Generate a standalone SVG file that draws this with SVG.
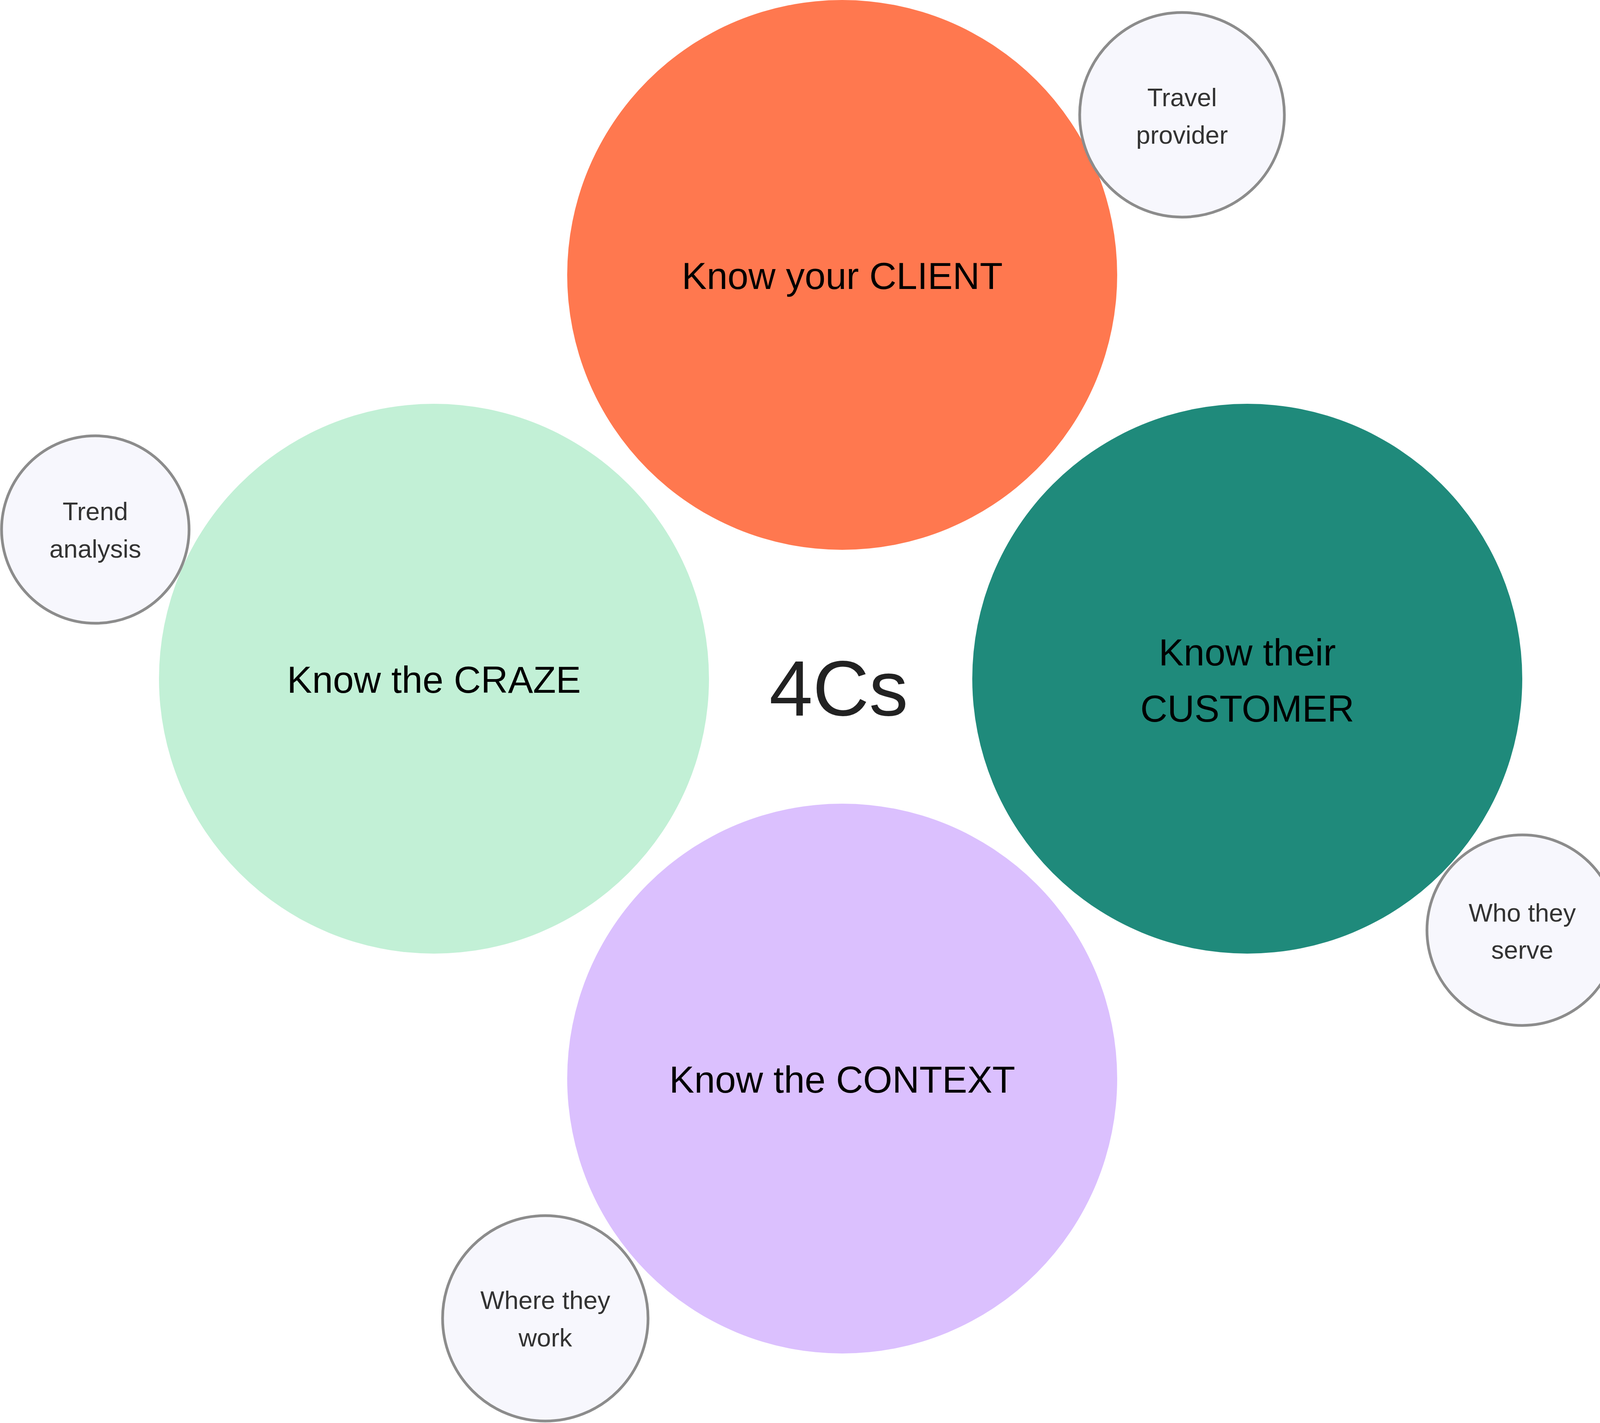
<svg xmlns="http://www.w3.org/2000/svg" width="4148" height="3644" viewBox="0 0 4148 3644">
<style>
.main{font-family:"Liberation Sans",Arial,sans-serif;font-size:96px;fill:#000;text-anchor:middle}
.small{font-family:"Liberation Sans",Arial,sans-serif;font-size:65px;fill:#333;text-anchor:middle}
.sub{fill:#F7F7FD;stroke:#8C8C8C;stroke-width:7}
.title{font-family:"Liberation Sans",Arial,sans-serif;font-size:200px;fill:#222;text-anchor:middle}
</style>
<rect width="4148" height="3644" fill="#fff"/>
<g id="client">
<circle cx="2156" cy="704" r="704" fill="#FF784F"/>
<text class="main" x="2156" y="740">Know your CLIENT</text>
</g>
<g id="craze">
<circle cx="1111" cy="1738" r="704" fill="#C2F0D6"/>
<text class="main" x="1111" y="1774">Know the CRAZE</text>
</g>
<g id="customer">
<circle cx="3193" cy="1738" r="704" fill="#1F8A7B"/>
<text class="main" x="3193" y="1704">Know their</text>
<text class="main" x="3193" y="1848">CUSTOMER</text>
</g>
<g id="context">
<circle cx="2156" cy="2762" r="704" fill="#DBC0FE"/>
<text class="main" x="2156" y="2798">Know the CONTEXT</text>
</g>
<g id="center">
<text class="title" x="2147" y="1832">4Cs</text>
</g>
<g id="travel-provider">
<circle class="sub" cx="3026" cy="294" r="262"/>
<text class="small" x="3026" y="272">Travel</text>
<text class="small" x="3026" y="368">provider</text>
</g>
<g id="trend-analysis">
<circle class="sub" cx="244" cy="1356" r="240"/>
<text class="small" x="244" y="1332">Trend</text>
<text class="small" x="244" y="1428">analysis</text>
</g>
<g id="who-they-serve">
<circle class="sub" cx="3897" cy="2382" r="244"/>
<text class="small" x="3897" y="2360">Who they</text>
<text class="small" x="3897" y="2455">serve</text>
</g>
<g id="where-they-work">
<circle class="sub" cx="1396" cy="3376" r="263"/>
<text class="small" x="1396" y="3352">Where they</text>
<text class="small" x="1396" y="3448">work</text>
</g>
<g id="connectors"></g>
</svg>
